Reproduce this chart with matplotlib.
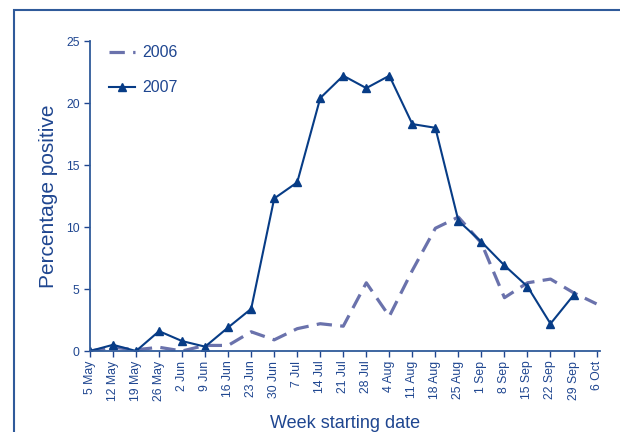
import matplotlib
matplotlib.use("Agg")
import matplotlib.pyplot as plt
from matplotlib.patches import Rectangle

weeks = ["5 May", "12 May", "19 May", "26 May", "2 Jun", "9 Jun", "16 Jun", "23 Jun",
         "30 Jun", "7 Jul", "14 Jul", "21 Jul", "28 Jul", "4 Aug", "11 Aug", "18 Aug",
         "25 Aug", "1 Sep", "8 Sep", "15 Sep", "22 Sep", "29 Sep", "6 Oct"]

pos_2006 = [0.0, 0.3, 0.1, 0.3, 0.0, 0.45, 0.45, 1.55, 0.9, 1.8, 2.2, 2.0, 5.5, 2.8,
            6.5, 9.9, 10.8, 8.7, 4.3, 5.5, 5.8, 4.7, 3.8]
pos_2007 = [0.0, 0.5, 0.0, 1.6, 0.8, 0.35, 1.9, 3.4, 12.3, 13.6, 20.4, 22.2, 21.2, 22.2,
            18.3, 18.0, 10.5, 8.8, 6.9, 5.2, 2.2, 4.5]

c07 = "#073C86"
c06 = "#6A72AC"
ctext = "#1F4690"

plt.rcParams["font.family"] = ["Liberation Sans", "DejaVu Sans"]

fig = plt.figure(figsize=(6.2, 4.32), dpi=100)
ax = fig.add_axes([90 / 620, 81 / 432, 510 / 620, 310 / 432])

# outer frame, only left and top edges show in the picture
fig.patches.append(Rectangle((14 / 620, -0.5), 2.0, 1.5 - 10 / 432, transform=fig.transFigure,
                             fill=False, edgecolor="#2F5A9A", linewidth=1.5))

x06 = list(range(len(pos_2006)))
x07 = list(range(len(pos_2007)))
ax.plot(x06, pos_2006, color=c06, linewidth=2.3, dashes=(4.8, 2.6), label="2006")
ax.plot(x07, pos_2007, color=c07, linewidth=1.5, marker="^", markersize=5.5, label="2007")

ax.set_xlim(0, 22.15)
ax.set_ylim(0, 25)
ax.set_yticks([0, 5, 10, 15, 20, 25])
ax.set_xticks(range(len(weeks)))
ax.set_xticklabels(weeks, rotation=90)
ax.tick_params(axis="both", colors=ctext, labelsize=8.8, length=4, width=1)
ax.tick_params(axis="x", pad=3)
for s in ["top", "right"]:
    ax.spines[s].set_visible(False)
for s in ["left", "bottom"]:
    ax.spines[s].set_color("#2F5A9A")
    ax.spines[s].set_linewidth(1.3)

ax.set_ylabel("Percentage positive", fontsize=15, color=ctext, labelpad=6)
ax.set_xlabel("Week starting date", fontsize=13, color=ctext, labelpad=10)

leg = ax.legend(loc="upper left", bbox_to_anchor=(0.01, 1.033), frameon=False,
                fontsize=11.5, handlelength=1.6, labelspacing=1.25, handletextpad=0.45)
for t in leg.get_texts():
    t.set_color(ctext)

fig.savefig("out.png", dpi=100)
